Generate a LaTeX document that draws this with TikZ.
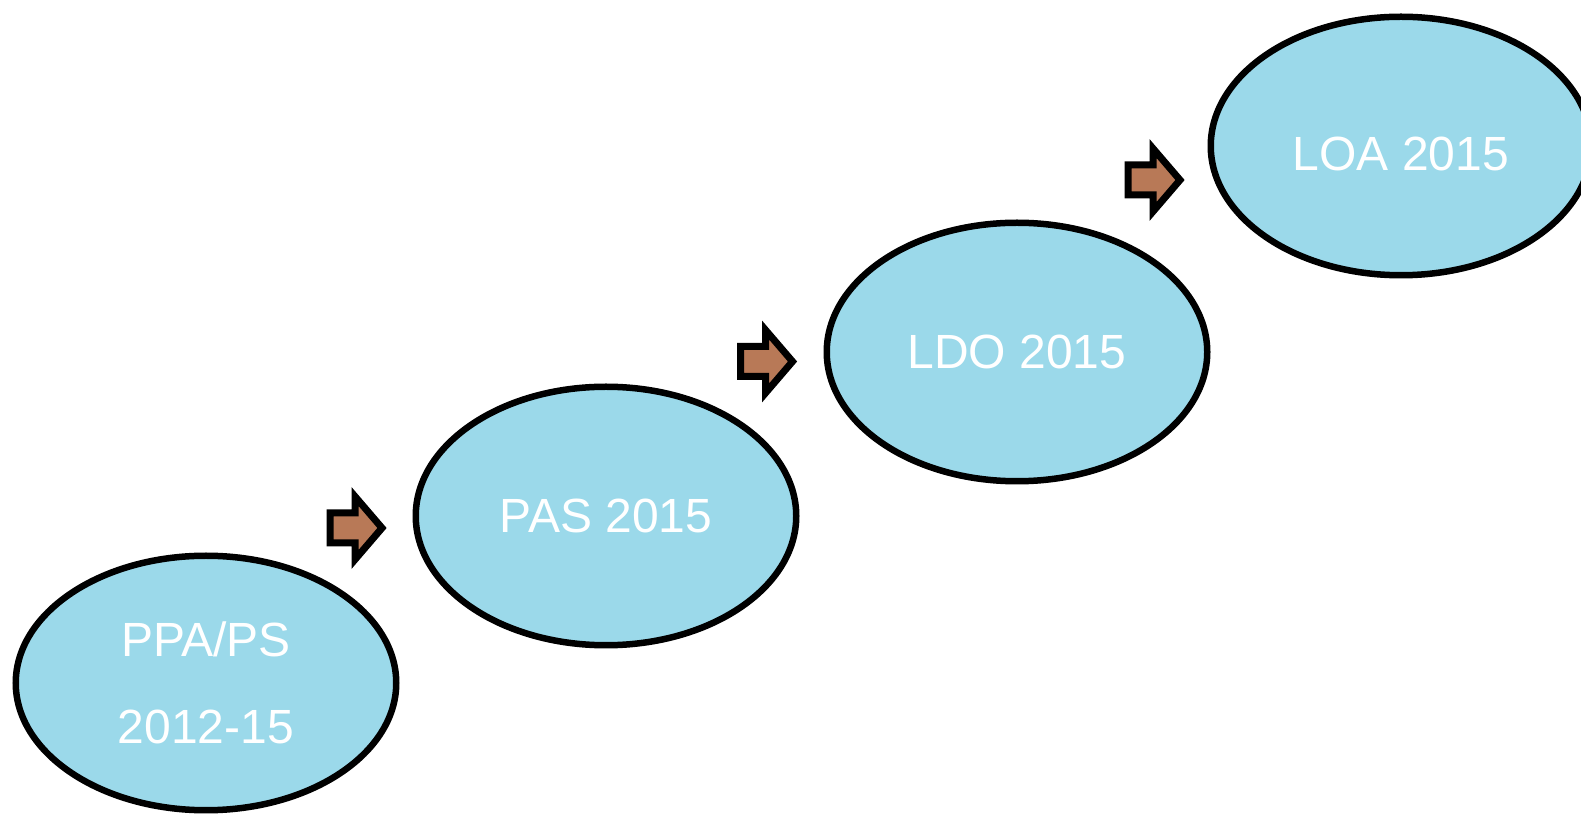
\documentclass[tikz,border=0pt]{standalone}
\usepackage{fontspec}
\setmainfont{Liberation Sans}
\usetikzlibrary{shapes.geometric}
\definecolor{stagefill}{RGB}{155,217,234}
\definecolor{arrowfill}{RGB}{184,121,87}
\begin{document}
\begin{tikzpicture}[x=0.5pt,y=-0.5pt,
  stage/.style={ellipse, draw=black, line width=3.25pt, fill=stagefill,
    minimum width=190.25pt, minimum height=129.25pt, inner sep=0pt,
    text=white, font=\fontsize{24}{43.5}\selectfont, align=center},
  arrowbody/.style={draw=black, line width=3.5pt, fill=arrowfill, line join=miter},
  blockarrow/.pic={\path[arrowbody] (0,0) -- (-27,-31.5) -- (-27,-15) -- (-52,-15)
    -- (-52,15) -- (-27,15) -- (-27,31.5) -- cycle;}
]
\useasboundingbox (0,0) rectangle (1581,817);
\begin{scope}
  \clip (0,0) rectangle (1581,817);
  % the four planning stages
  \node[stage, minimum height=127.25pt] (ppa) at (206,683) {PPA/PS\\2012-15};
  \node[stage] (pas) at (606,516) {PAS 2015};
  \node[stage] (ldo) at (1017,352) {LDO 2015};
  \node[stage, text height=24.2pt, text depth=0pt] (loa) at (1401,146) {LOA 2015};
\end{scope}
% block arrows between the stages (placed by their tips)
\pic (arrA) at (382,528) {blockarrow};
\pic (arrB) at (792.5,361.5) {blockarrow};
\pic (arrC) at (1180,180) {blockarrow};
\end{tikzpicture}
\end{document}
